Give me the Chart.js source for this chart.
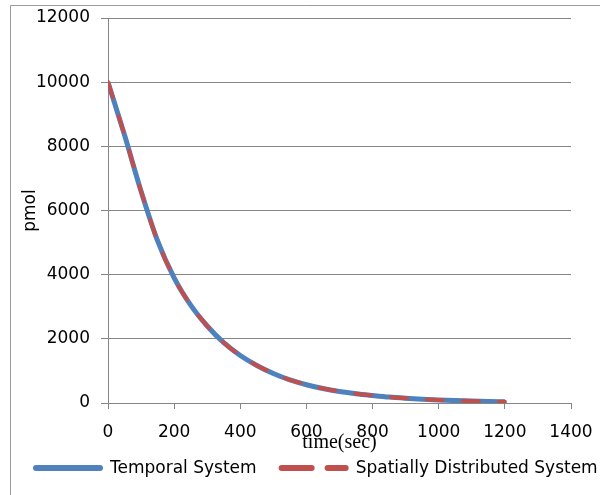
<!DOCTYPE html>
<html>
<head>
<meta charset="utf-8">
<script src="https://cdn.jsdelivr.net/npm/chart.js@4.4.1/dist/chart.umd.min.js"></script>
<style>
  html, body { margin: 0; padding: 0; background: #fff; }
  #wrap { width: 600px; height: 495px; }
</style>
</head>
<body>
<div id="wrap"><canvas id="c1"></canvas></div>
<script>
/* ── Data ─────────────────────────────────────────────── */
const timeSec  = [0, 50, 100, 150, 200, 250, 300, 350, 400, 450, 500, 550, 600,
                  650, 700, 750, 800, 850, 900, 950, 1000, 1050, 1100, 1150, 1200];
const temporal = [10000, 8350, 6600, 5050, 3900, 3050, 2400, 1880, 1480, 1170, 920, 720, 570,
                  450, 360, 290, 235, 185, 148, 118, 94, 75, 60, 48, 38];
const spatial  = [10000, 8350, 6600, 5050, 3900, 3050, 2400, 1880, 1480, 1170, 920, 720, 570,
                  450, 360, 290, 235, 185, 148, 118, 94, 75, 60, 48, 38];
const seriesNames = ['Temporal System', 'Spatially Distributed System'];

const GRID  = '#868686';
const FONT  = { family: 'DejaVu Sans', size: 17 };

function toPoints(ys) {
    return timeSec.map(function (t, i) { return { x: t, y: ys[i] }; });
}

/* outer frame (left + top edges only, as in the cropped source) */
const framePlugin = {
    id: 'frame',
    beforeDraw: function (chart) {
        const ctx = chart.ctx;
        ctx.save();
        ctx.strokeStyle = '#9a9a9a';
        ctx.lineWidth = 1;
        ctx.beginPath();
        ctx.moveTo(10.5, 495);
        ctx.lineTo(10.5, 5.5);
        ctx.lineTo(600, 5.5);
        ctx.stroke();
        ctx.restore();
    },
};

/* legend with long line samples, laid out left to right */
const lineLegend = {
    id: 'lineLegend',
    afterDraw: function (chart) {
        const ctx = chart.ctx;
        const y = 468;
        let x = 33;
        ctx.save();
        ctx.font = FONT.size + 'px ' + FONT.family;
        ctx.textBaseline = 'middle';
        ctx.textAlign = 'left';
        chart.data.datasets.slice().sort(function (a, b) { return a.legendIndex - b.legendIndex; })
            .forEach(function (ds) {
                ctx.strokeStyle = ds.borderColor;
                ctx.lineWidth = 6;
                ctx.lineCap = 'round';
                ctx.setLineDash(ds.borderDash ? [30, 16] : []);
                ctx.beginPath();
                ctx.moveTo(x + 3, y);
                ctx.lineTo(x + 67, y);
                ctx.stroke();
                ctx.setLineDash([]);
                ctx.fillStyle = '#000';
                ctx.fillText(ds.label, x + 77, y + 1);
                x += 77 + ctx.measureText(ds.label).width + 22;
            });
        ctx.restore();
    },
};

new Chart(document.getElementById('c1'), {
    type : 'line',
    data : {
        datasets : [
            {
                label           : seriesNames[0],
                legendIndex     : 0,
                data            : toPoints(temporal),
                borderColor     : '#4F81BD',
                backgroundColor : '#4F81BD',
                borderWidth     : 5,
                pointRadius     : 0,
                order           : 2,
                cubicInterpolationMode : 'monotone',
            },
            {
                label           : seriesNames[1],
                legendIndex     : 1,
                data            : toPoints(spatial),
                borderColor     : '#C0504D',
                backgroundColor : '#C0504D',
                borderWidth     : 4,
                borderDash      : [16, 20],
                borderCapStyle  : 'round',
                pointRadius     : 0,
                order           : 1,
                cubicInterpolationMode : 'monotone',
            },
        ],
    },
    options : {
        responsive          : true,
        maintainAspectRatio : false,
        animation           : false,
        layout : { padding: { top: 18, right: 29, left: 0, bottom: 40 } },
        plugins : {
            tooltip : { enabled: false },
            legend  : { display: false },
        },
        scales : {
            x : {
                type : 'linear',
                min  : 0,
                max  : 1400,
                ticks : {
                    stepSize : 200,
                    color    : '#000',
                    font     : FONT,
                    padding  : 13,
                    maxRotation : 0,
                    callback : function (v) { return String(v); },
                },
                grid  : { drawOnChartArea: false, color: GRID, tickLength: 6 },
                border: { color: GRID },
                title : {
                    display : true,
                    text    : 'time(sec)',
                    color   : '#000',
                    font    : { family: 'Liberation Serif', size: 20 },
                    padding : { top: -14, bottom: 0 },
                },
                afterFit : function (s) {
                    s.height = 52;
                    s.paddingLeft = 0;
                    s.paddingRight = 0;
                },
            },
            y : {
                min  : 0,
                max  : 12000,
                ticks : {
                    stepSize : 2000,
                    color    : '#000',
                    font     : FONT,
                    padding  : 11,
                    callback : function (v) { return String(v); },
                },
                grid  : { color: GRID, tickLength: 7 },
                border: { color: GRID },
                title : {
                    display : true,
                    text    : 'pmol',
                    color   : '#000',
                    font    : FONT,
                    padding : { top: 20, bottom: 0 },
                },
                afterFit : function (s) {
                    s.width = 108;
                    s.paddingTop = 0;
                    s.paddingBottom = 0;
                },
            },
        },
    },
    plugins : [framePlugin, lineLegend],
});
</script>
</body>
</html>
